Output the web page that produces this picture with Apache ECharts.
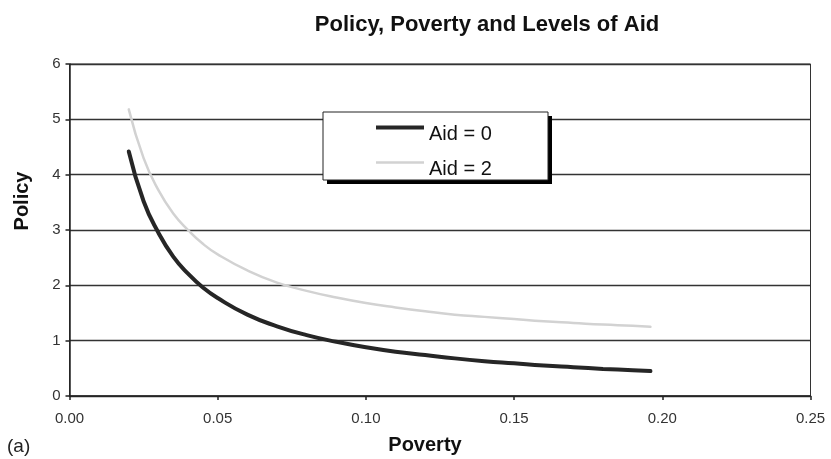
<!DOCTYPE html>
<html>
<head>
<meta charset="utf-8">
<script src="https://cdn.jsdelivr.net/npm/echarts@6/dist/echarts.min.js"></script>
<style>
  html, body { margin: 0; padding: 0; background: #fff; }
  #chart { width: 831px; height: 459px; }
</style>
</head>
<body>
<div id="chart"></div>
<script>
// Poverty levels sampled along the curves
const poverty = [0.020, 0.025, 0.030, 0.035, 0.040, 0.045, 0.050, 0.060, 0.070, 0.080, 0.090,
                 0.100, 0.110, 0.120, 0.130, 0.140, 0.150, 0.160, 0.170, 0.180, 0.190, 0.196];
// Policy threshold with no aid
const policyAid0 = [4.42, 3.52, 2.95, 2.52, 2.21, 1.96, 1.77, 1.47, 1.26, 1.10, 0.98,
                    0.88, 0.80, 0.74, 0.68, 0.63, 0.59, 0.55, 0.52, 0.49, 0.465, 0.45];
// Policy threshold with aid = 2
const policyAid2 = [5.18, 4.30, 3.72, 3.30, 3.00, 2.75, 2.56, 2.27, 2.05, 1.90, 1.78,
                    1.68, 1.60, 1.53, 1.47, 1.43, 1.39, 1.35, 1.32, 1.29, 1.27, 1.25];
const seriesNames = ['Aid = 0', 'Aid = 2'];
const xTicks = [0, 0.05, 0.10, 0.15, 0.20, 0.25];
const yTicks = [0, 1, 2, 3, 4, 5, 6];

const pairs = (xs, ys) => xs.map((x, i) => [x, ys[i]]);
const font = 'Liberation Sans, Arial, sans-serif';

const chart = echarts.init(document.getElementById('chart'));
chart.setOption({
  animation: false,
  backgroundColor: '#fff',
  title: {
    text: 'Policy, Poverty and Levels of Aid',
    left: 482, top: 9, textAlign: 'center',
    textStyle: { fontFamily: font, fontWeight: 'bold', fontSize: 22, color: '#111' }
  },
  grid: {
    left: 69.5, right: 20.5, top: 64, bottom: 63,
    show: true, borderColor: '#333', borderWidth: 1, backgroundColor: 'transparent'
  },
  legend: {
    orient: 'vertical',
    left: 376, top: 124,
    padding: 0,
    itemWidth: 48, itemHeight: 14, itemGap: 15,
    symbolKeepAspect: true,
    z: 20,
    formatter: name => '{t|' + name + '}',
    textStyle: {
      fontFamily: font, fontSize: 20, color: '#111',
      rich: { t: { fontFamily: font, fontSize: 20, color: '#111', padding: [13, 0, 0, 0] } }
    },
    data: [
      { name: seriesNames[0], icon: 'path://M0,0H48V4H0Z' },
      { name: seriesNames[1], icon: 'path://M0,0H48V2.5H0Z' }
    ]
  },
  xAxis: {
    type: 'value',
    min: xTicks[0], max: xTicks[xTicks.length - 1], interval: 0.05,
    axisLine: { show: true, lineStyle: { color: '#222', width: 1.5 } },
    axisTick: { show: true, length: 4, lineStyle: { color: '#222', width: 1.5 } },
    splitLine: { show: false },
    axisLabel: {
      margin: 15, fontFamily: font, fontSize: 15, color: '#333',
      formatter: v => v.toFixed(2)
    }
  },
  yAxis: {
    type: 'value',
    min: yTicks[0], max: yTicks[yTicks.length - 1], interval: 1,
    axisLine: { show: true, lineStyle: { color: '#222', width: 1.5 } },
    axisTick: { show: true, length: 4, lineStyle: { color: '#222', width: 1.5 } },
    splitLine: { show: true, lineStyle: { color: '#333', width: 1.4 } },
    axisLabel: { margin: 9, fontFamily: font, fontSize: 15, color: '#333' }
  },
  graphic: [
    // legend frame with its drop shadow
    {
      type: 'rect', z: 10, shape: { x: 327, y: 116, width: 225, height: 68 },
      style: { fill: '#000' }
    },
    {
      type: 'rect', z: 11, shape: { x: 323, y: 112, width: 225, height: 68 },
      style: { fill: '#fff', stroke: '#222', lineWidth: 1 }
    },
    {
      type: 'text', x: 22, y: 201, rotation: Math.PI / 2,
      style: { text: 'Policy', fontFamily: font, fontWeight: 'bold', fontSize: 20, fill: '#111',
               textAlign: 'center', textVerticalAlign: 'middle' }
    },
    {
      type: 'text', x: 425, y: 445,
      style: { text: 'Poverty', fontFamily: font, fontWeight: 'bold', fontSize: 20, fill: '#111',
               textAlign: 'center', textVerticalAlign: 'middle' }
    },
    {
      type: 'text', x: 7, y: 447,
      style: { text: '(a)', fontFamily: font, fontSize: 19, fill: '#222',
               textAlign: 'left', textVerticalAlign: 'middle' }
    }
  ],
  series: [
    {
      name: seriesNames[0], type: 'line', smooth: true, symbol: 'none',
      data: pairs(poverty, policyAid0),
      lineStyle: { color: '#262626', width: 4, cap: 'round' },
      itemStyle: { color: '#262626' },
      z: 3
    },
    {
      name: seriesNames[1], type: 'line', smooth: true, symbol: 'none',
      data: pairs(poverty, policyAid2),
      lineStyle: { color: '#d2d2d2', width: 2.5, cap: 'round' },
      itemStyle: { color: '#d2d2d2' },
      z: 2
    }
  ]
});
</script>
</body>
</html>
